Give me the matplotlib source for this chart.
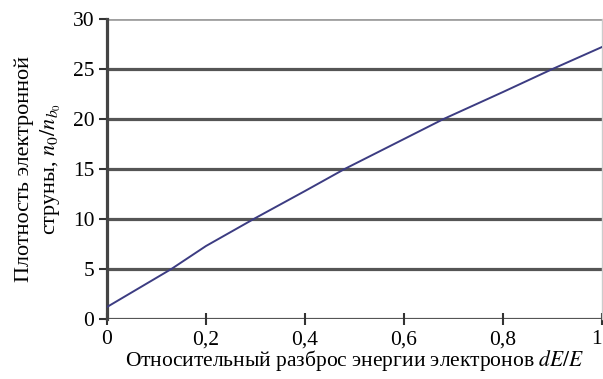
import matplotlib
matplotlib.use('Agg')
from matplotlib import pyplot as plt

plt.rcParams['font.family'] = ['Liberation Serif', 'DejaVu Serif']
plt.rcParams['mathtext.fontset'] = 'stix'

# относительный разброс энергии и плотность струны
razbros = [0.0, 0.13, 0.2, 0.3, 0.4, 0.48, 0.6, 0.68, 0.8, 0.9, 1.0]
plotnost = [1.2, 5.0, 7.3, 10.1, 12.8, 15.0, 18.0, 20.0, 22.7, 25.0, 27.2]
y_ticks = [0, 5, 10, 15, 20, 25, 30]
x_ticks = [0, 0.2, 0.4, 0.6, 0.8, 1.0]
x_labels = ['0', '0,2', '0,4', '0,6', '0,8', '1']

fig = plt.figure(figsize=(6.03, 3.79), dpi=100)
ax = fig.add_axes([107/603, 60/379, 495/603, 300/379])

for v in y_ticks[:-1]:
    ax.axhline(v, color='#555555', lw=2.3, zorder=1)
ax.axhline(30, color='#a0a0a0', lw=2.0, zorder=1)

ax.plot(razbros, plotnost, color='#3c3c82', lw=1.4, zorder=3)

ax.set_xlim(0, 1)
ax.set_ylim(0, 30)
ax.set_xticks(x_ticks)
ax.set_xticklabels(x_labels)
ax.set_yticks(y_ticks)
ax.get_xticklabels()[-1].set_ha('right')

for s in ['top', 'bottom']:
    ax.spines[s].set_visible(False)
ax.spines['left'].set_color('#444444')
ax.spines['left'].set_linewidth(2.3)
ax.spines['right'].set_color('#cccccc')
ax.spines['right'].set_linewidth(1)

ax.tick_params(axis='both', labelsize=15.5, colors='#333333', labelcolor='black', width=1.5)
ax.tick_params(axis='x', direction='inout', length=8, pad=4)
ax.tick_params(axis='y', direction='out', length=6, pad=3)

ax.set_xlabel('Относительный разброс энергии электронов $dE/E$', fontsize=15.5, labelpad=-1)
ax.set_ylabel('Плотность электронной\nструны, $n_0/n_{b_0}$', fontsize=16,
              labelpad=7, linespacing=1.3)

plt.savefig('out.png', dpi=100)
